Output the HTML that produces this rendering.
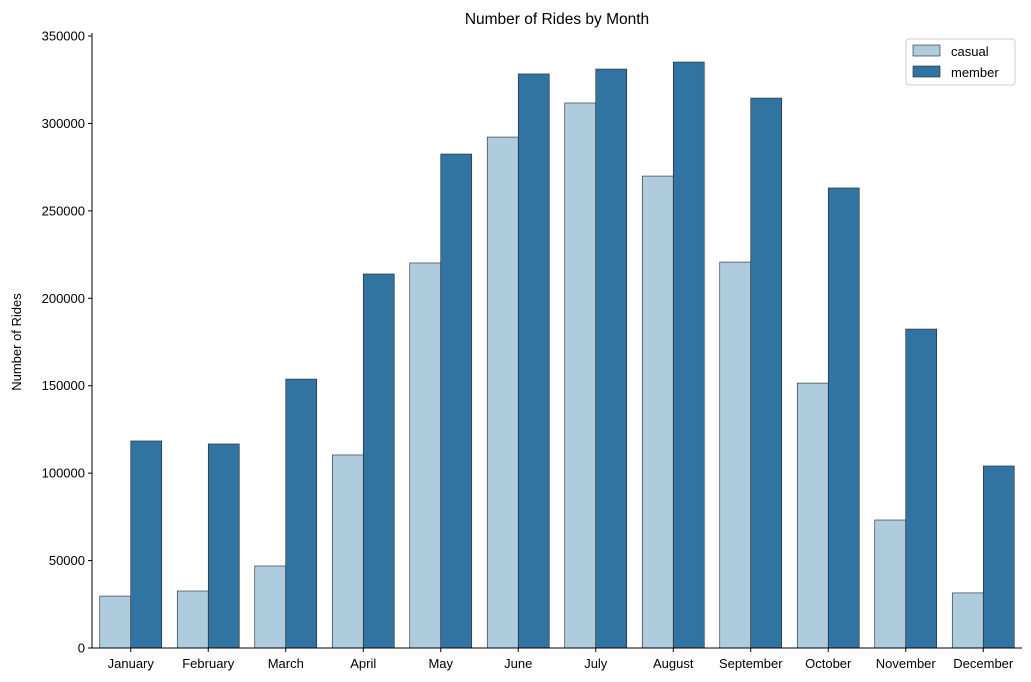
<!DOCTYPE html>
<html><head><meta charset="utf-8"><style>
body{margin:0;background:#fff;}
svg{display:block;font-family:"Liberation Sans","DejaVu Sans",sans-serif;}
</style></head><body>
<svg id="chart" width="1031" height="682">
<text x="557" y="24" text-anchor="middle" font-size="15.5">Number of Rides by Month</text>
<text transform="translate(21,342) rotate(-90)" text-anchor="middle" font-size="13">Number of Rides</text>
<g id="bars"></g><g id="axes"></g>
<g>
<rect x="906" y="39" width="109" height="46" fill="#fff" stroke="#ccc" rx="3"/>
<rect x="913" y="45" width="27" height="11" fill="#afcbde" stroke="#222" stroke-width="0.6"/>
<text x="951" y="56" font-size="13">casual</text>
<rect x="913" y="66" width="27" height="11" fill="#3274a1" stroke="#222" stroke-width="0.6"/>
<text x="951" y="77" font-size="13">member</text>
</g>
</svg>
<script>
const months=["January","February","March","April","May","June","July","August","September","October","November","December"];
const casual=[29700,32600,46900,110400,220200,292200,311700,269900,220700,151500,73200,31500];
const member=[118400,116700,153800,213900,282500,328300,331100,335100,314500,263100,182400,104100];
const yTicks=[0,50000,100000,150000,200000,250000,300000,350000];
const NS="http://www.w3.org/2000/svg";
const x0=92,x1=1022,yb=648,yt=36,ymax=350000;
const bw=(x1-x0)/months.length;
const y=v=>yb-(v/ymax)*(yb-yt);
const xc=i=>x0+bw*(i+0.5);
function mk(t,a,p){const e=document.createElementNS(NS,t);for(const k in a)e.setAttribute(k,a[k]);p.appendChild(e);return e;}
const bars=document.getElementById('bars'),axes=document.getElementById('axes');
months.forEach((m,i)=>{
 const w=bw*0.4;
 const r1=mk('rect',{x:xc(i)-w,y:y(casual[i]),width:w,height:yb-y(casual[i]),fill:'#afcbde',stroke:'#222','stroke-width':0.6},bars);
 
 
 const r2=mk('rect',{x:xc(i),y:y(member[i]),width:w,height:yb-y(member[i]),fill:'#3274a1',stroke:'#222','stroke-width':0.6},bars);
 
 
 mk('line',{x1:xc(i),x2:xc(i),y1:yb,y2:yb+4,stroke:'#000'},axes);
 const t=mk('text',{x:xc(i),y:yb+20,'text-anchor':'middle','font-size':13},axes);
 t.textContent=m;
 
 
});
yTicks.forEach(v=>{
 mk('line',{x1:x0-4,x2:x0,y1:y(v),y2:y(v),stroke:'#000'},axes);
 const t=mk('text',{x:x0-7,y:y(v)+4.5,'text-anchor':'end','font-size':13},axes);
 t.textContent=v;
 
 
});
const ya=mk('line',{x1:x0,x2:x0,y1:yt-3,y2:yb,stroke:'#000'},axes);


const xa=mk('line',{x1:x0,x2:x1,y1:yb,y2:yb,stroke:'#000'},axes);


</script>
</body></html>
